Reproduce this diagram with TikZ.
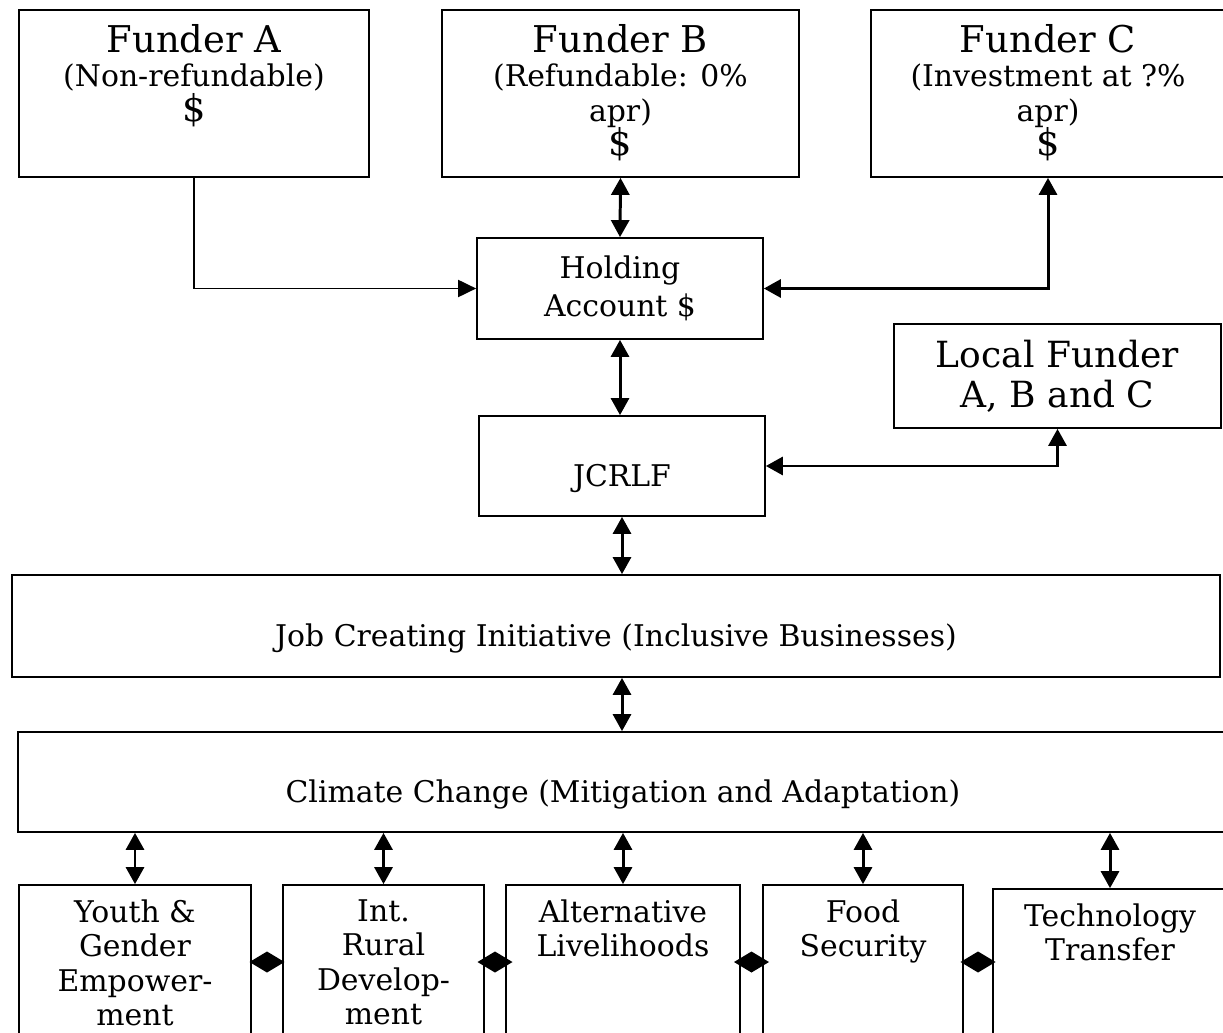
\documentclass[tikz,border=0pt]{standalone}
\usepackage{fontspec}
\setmainfont{DejaVu Serif}
\usetikzlibrary{arrows.meta,decorations.markings}

\newcommand\titlesize{\fontsize{21}{21}\selectfont}

\tikzset{
  box/.style={draw, line width=1pt, inner sep=0pt, align=center},
  toptext/.style={anchor=north, align=center, inner sep=0pt, yshift=-0.3cm,
    font=\fontsize{17}{19.6}\selectfont},
  lowtext/.style={text height=23pt, text depth=0pt},
  flow/.style={line width=1.1pt, -{Triangle[length=0.36cm,width=0.34cm]}},
  both/.style={line width=1.7pt, {Triangle[length=0.34cm,width=0.36cm]}-{Triangle[length=0.34cm,width=0.36cm]}},
  % one rhombus centred in the gap between two neighbouring boxes
  link/.style={line width=1.2pt, postaction={decorate},
    decoration={markings, mark=at position 0.5 with
      {\fill (-0.35cm,0) -- (0,0.21cm) -- (0.35cm,0) -- (0,-0.21cm) -- cycle;}}}
}

\begin{document}
\begin{tikzpicture}[x=0.02cm, y=-0.02cm, font=\fontsize{17}{19.6}\selectfont]
\useasboundingbox (0,0) rectangle (1223,1033);
\clip (0,0) rectangle (1223,1033);

% funders on top
\node[box, minimum width=7cm, minimum height=3.34cm,
  label={[toptext]north:{{\titlesize Funder A}\\(Non-refundable)\\{\titlesize\$}}}] (fa) at (194,93.5) {};
\node[box, minimum width=7.14cm, minimum height=3.34cm,
  label={[toptext]north:{{\titlesize Funder B}\\(Refundable: 0\%\\apr)\\{\titlesize\$}}}] (fb) at (620.5,93.5) {};
\node[box, minimum width=7.08cm, minimum height=3.34cm,
  label={[toptext]north:{{\titlesize Funder C}\\(Investment at ?\%\\apr)\\{\titlesize\$}}}] (fc) at (1048,93.5) {};

% middle column
\node[box, minimum width=5.72cm, minimum height=2.02cm, font=\fontsize{17}{22}\selectfont] (hold) at (620,288.5) {Holding\\Account \$};
\node[box, minimum width=6.54cm, minimum height=2.08cm, font=\fontsize{20.5}{22.7}\selectfont] (local) at (1057.5,376) {Local Funder\\A, B and C};
\node[box, lowtext, minimum width=5.72cm, minimum height=2cm] (jcrlf) at (622,466) {JCRLF};
\node[box, lowtext, minimum width=24.16cm, minimum height=2.04cm] (job) at (616,626) {Job Creating Initiative (Inclusive Businesses)};
\node[box, lowtext, minimum width=24.2cm, minimum height=2cm] (clim) at (623,782) {Climate Change (Mitigation and Adaptation)};

% themes at the bottom
\node[box, minimum width=4.64cm, minimum height=4.3cm,
  label={[toptext]north:{Youth \&\\Gender\\Empower-\\ment}}] (yg) at (135,992.5) {};
\node[box, minimum width=4.02cm, minimum height=4.3cm,
  label={[toptext]north:{Int.\\Rural\\Develop-\\ment}}] (ir) at (383.5,992.5) {};
\node[box, minimum width=4.68cm, minimum height=4.3cm,
  label={[toptext]north:{Alternative\\Livelihoods}}] (alt) at (623,992.5) {};
\node[box, minimum width=4cm, minimum height=4.3cm,
  label={[toptext]north:{Food\\Security}}] (food) at (863,992.5) {};
\node[box, minimum width=4.68cm, minimum height=4.3cm,
  label={[toptext]north:{Technology\\Transfer}}] (tech) at (1110,996.5) {};

% money flows
\draw[flow] (fa.south) |- (hold.west);
\draw[both] (fb.south) -- (hold.north);
\draw[both] (hold.east) -| (fc.south);
\draw[both] (hold.south) -- (hold.south |- jcrlf.north);
\draw[both] (jcrlf.east) -| (local.south);
\draw[both] (jcrlf.south) -- (jcrlf.south |- job.north);
\draw[both] (jcrlf.south |- job.south) -- (jcrlf.south |- clim.north);

\draw[both] (yg.north |- clim.south) -- (yg.north);
\draw[both] (ir.north |- clim.south) -- (ir.north);
\draw[both] (alt.north |- clim.south) -- (alt.north);
\draw[both] (food.north |- clim.south) -- (food.north);
\draw[both] (tech.north |- clim.south) -- (tech.north);

% links between themes
\coordinate (mid) at (0,962);
\draw[link] (yg.east |- mid) -- (ir.west |- mid);
\draw[link] (ir.east |- mid) -- (alt.west |- mid);
\draw[link] (alt.east |- mid) -- (food.west |- mid);
\draw[link] (food.east |- mid) -- (tech.west |- mid);

\end{tikzpicture}
\end{document}
